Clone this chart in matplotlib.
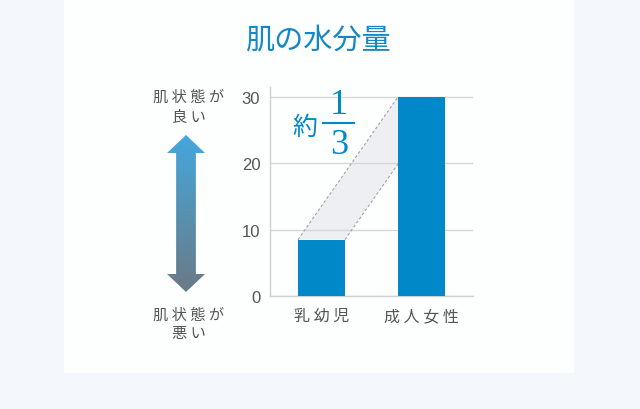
import numpy as np
import matplotlib
matplotlib.use("Agg")
import matplotlib.pyplot as plt
from matplotlib.patches import Rectangle, Polygon
from matplotlib.colors import LinearSegmentedColormap

plt.rcParams['font.family'] = ['Noto Sans CJK JP', 'DejaVu Sans']

# data
categories = ['乳 幼 児', '成 人 女 性']
values = [8.5, 30]
yticks = [0, 10, 20, 30]

BLUE = '#0088c9'
GRAY_TXT = '#555555'
W, H = 640, 410


def px(x, y):
    # pixel (from top-left) -> figure fraction
    return x / W, 1 - y / H


fig = plt.figure(figsize=(6.4, 4.1), dpi=100)
fig.patch.set_facecolor('#f4f7fb')

# white panel
fig.patches.append(Rectangle(px(64, 374), 510 / W, 374 / H, transform=fig.transFigure,
                             facecolor='#fdfefe', edgecolor='none', zorder=-5))

fig.text(*px(318, 41), '肌の水分量', ha='center', va='center', fontsize=21, color='#1487c6')

# main chart
l, r, t, b = 270, 473, 88, 297
ax = fig.add_axes([l / W, 1 - b / H, (r - l) / W, (b - t) / H])
ax.set_facecolor('none')
x = np.arange(len(values))
bw = 0.47
ax.bar(x, values, width=bw, color=BLUE, zorder=3)

# band joining the two bar tops
band = Polygon([(x[0] - bw / 2, values[0]), (x[0] + bw / 2, values[0]),
                (x[1] + bw / 2, values[1]), (x[1] - bw / 2, values[1])],
               closed=True, facecolor='#eeeff2', edgecolor='none', zorder=0.3)
ax.add_patch(band)
for dx in (-bw / 2, bw / 2):
    ax.plot([x[0] + dx, x[1] + dx], [values[0], values[1]], ls=(0, (2.5, 2)),
            color='#a0a4a8', lw=0.8, zorder=0.6)

ax.set_xlim(-0.515, 1.515)
ax.set_ylim(0, 31.5)
ax.set_yticks(yticks)
ax.set_yticklabels([str(v) for v in yticks], family='Liberation Sans', fontsize=12, color=GRAY_TXT)
ax.set_xticks(x)
ax.set_xticklabels(categories, fontsize=11.5, color=GRAY_TXT)
ax.tick_params(axis='y', length=0, pad=7)
ax.tick_params(axis='x', length=0, pad=8)
ax.set_axisbelow(True)
ax.grid(axis='y', color='#d6d6d6', lw=1)
for s in ('top', 'right'):
    ax.spines[s].set_visible(False)
for s in ('left', 'bottom'):
    ax.spines[s].set_color('#d0d0d0')
    ax.spines[s].set_linewidth(1)

# 約 1/3
fig.text(*px(305, 128), '約', ha='center', va='center', fontsize=18, color=BLUE)
fig.text(*px(339, 105), '1', ha='center', va='center', fontsize=26,
         family='Liberation Serif', color=BLUE)
fig.text(*px(339, 145), '3', ha='center', va='center', fontsize=26,
         family='Liberation Serif', color=BLUE)
fig.add_artist(plt.Line2D([323 / W, 354 / W], [1 - 124 / H, 1 - 124 / H],
                          transform=fig.transFigure, color=BLUE, lw=1.5))

# gradient arrow
al, ar, at, ab = 167, 205, 136, 293
aax = fig.add_axes([al / W, 1 - ab / H, (ar - al) / W, (ab - at) / H])
aax.axis('off')
aax.set_xlim(0, 1)
aax.set_ylim(0, 1)
hh = 18 / (ab - at)
sw = 0.26
arrow = Polygon([(0.5, 1), (1, 1 - hh), (0.5 + sw, 1 - hh), (0.5 + sw, hh), (1, hh),
                 (0.5, 0), (0, hh), (0.5 - sw, hh), (0.5 - sw, 1 - hh), (0, 1 - hh)],
                closed=True, facecolor='none', edgecolor='none')
aax.add_patch(arrow)
cmap = LinearSegmentedColormap.from_list('arr', ['#6b7a86', '#45a7dd'])
grad = np.linspace(0, 1, 256).reshape(-1, 1)
im = aax.imshow(grad, cmap=cmap, extent=[0, 1, 0, 1], origin='lower', aspect='auto')
im.set_clip_path(arrow)

for y, s in [(97, '肌 状 態 が'), (117, '良 い'), (315, '肌 状 態 が'), (334, '悪 い')]:
    fig.text(*px(189, y), s, ha='center', va='center', fontsize=11, color=GRAY_TXT)

fig.savefig('out.png', dpi=100, facecolor=fig.get_facecolor())
